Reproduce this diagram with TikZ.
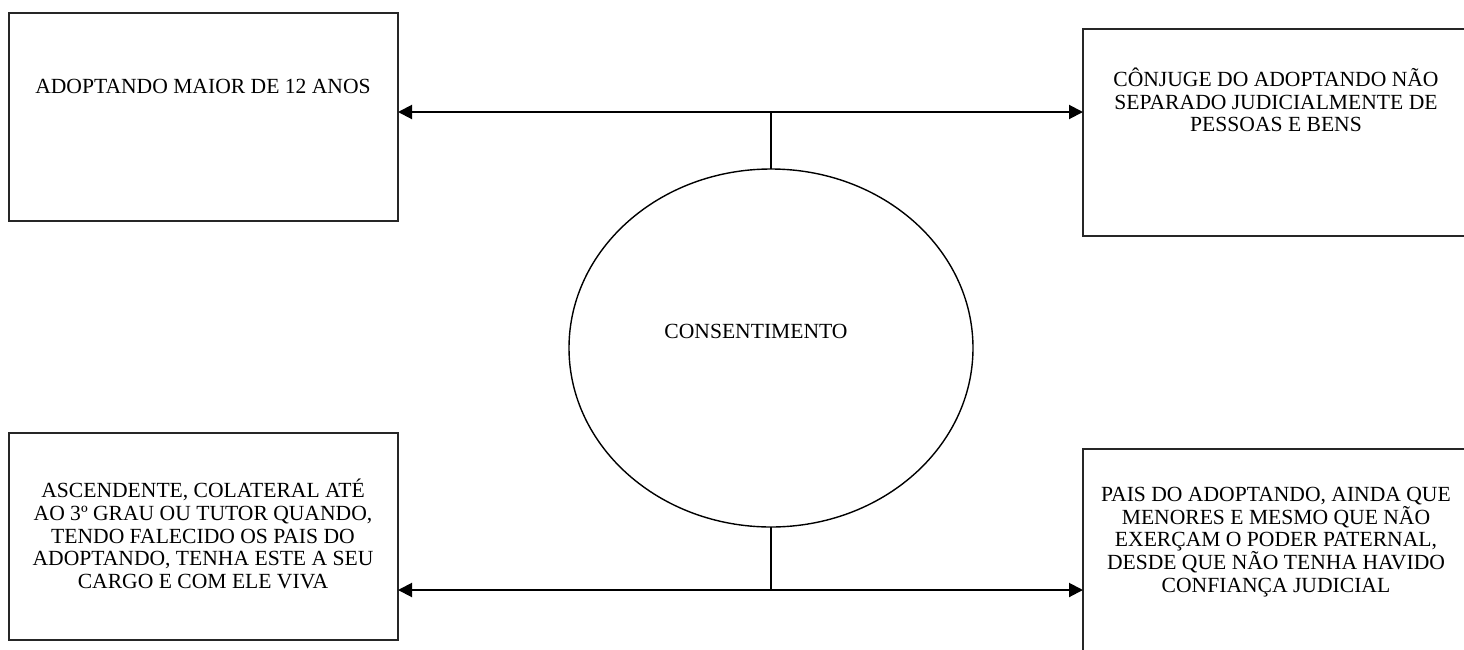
\documentclass[tikz,border=0pt]{standalone}
\usepackage{fontspec}
\setmainfont{Liberation Serif}
\usetikzlibrary{shapes.geometric,arrows.meta}
\tikzset{
  box/.style={draw=black!85, line width=0.8pt, rectangle, inner sep=0pt, outer sep=0pt},
  txt/.style={align=center, inner sep=0pt, font=\fontsize{10.8}{11.4}\selectfont},
  oval/.style={draw, line width=0.7pt, ellipse, inner sep=0pt, outer sep=0pt, minimum width=202pt, minimum height=179pt},
  link/.style={line width=0.7pt},
  dbl/.style={line width=1pt, {Triangle[length=7pt,width=7pt]}-{Triangle[length=7pt,width=7pt]}}
}
\begin{document}
\begin{tikzpicture}[x=0.5pt,y=-0.5pt]
\useasboundingbox (0,0) rectangle (1464,649);
% boxes
\node[box, minimum width=194.5pt, minimum height=104pt] (b1) at (203.5,117) {};
\node[box, minimum width=198.5pt, minimum height=103.5pt] (b2) at (1281.5,132.5) {};
\node[box, minimum width=194.5pt, minimum height=103.5pt] (b3) at (203.5,536.5) {};
\node[box, minimum width=198.5pt, minimum height=106pt] (b4) at (1281.5,555) {};
% ellipse
\node[oval] (e) at (771,348) {};
% texts
\node[txt] (t1) at (203,86) {ADOPTANDO MAIOR DE 12 ANOS};
\node[txt] (t2) at (1276,100) {CÔNJUGE DO ADOPTANDO NÃO\\SEPARADO JUDICIALMENTE DE\\PESSOAS E BENS};
\node[txt] (t3) at (203,534) {ASCENDENTE, COLATERAL ATÉ\\AO 3º GRAU OU TUTOR QUANDO,\\TENDO FALECIDO OS PAIS DO\\ADOPTANDO, TENHA ESTE A SEU\\CARGO E COM ELE VIVA};
\node[txt] (t4) at (1276,542) {PAIS DO ADOPTANDO, AINDA QUE\\MENORES E MESMO QUE NÃO\\EXERÇAM O PODER PATERNAL,\\DESDE QUE NÃO TENHA HAVIDO\\CONFIANÇA JUDICIAL};
\node[txt] (t5) at (756,331) {CONSENTIMENTO};
% connectors
\coordinate (jt) at (771,112);
\coordinate (jb) at (771,590);
\draw[link] (e.north) -- (jt);
\draw[link] (e.south) -- (jb);
\draw[dbl] (b1.east |- jt) -- (b2.west |- jt);
\draw[dbl] (b3.east |- jb) -- (b4.west |- jb);
\end{tikzpicture}
\end{document}
